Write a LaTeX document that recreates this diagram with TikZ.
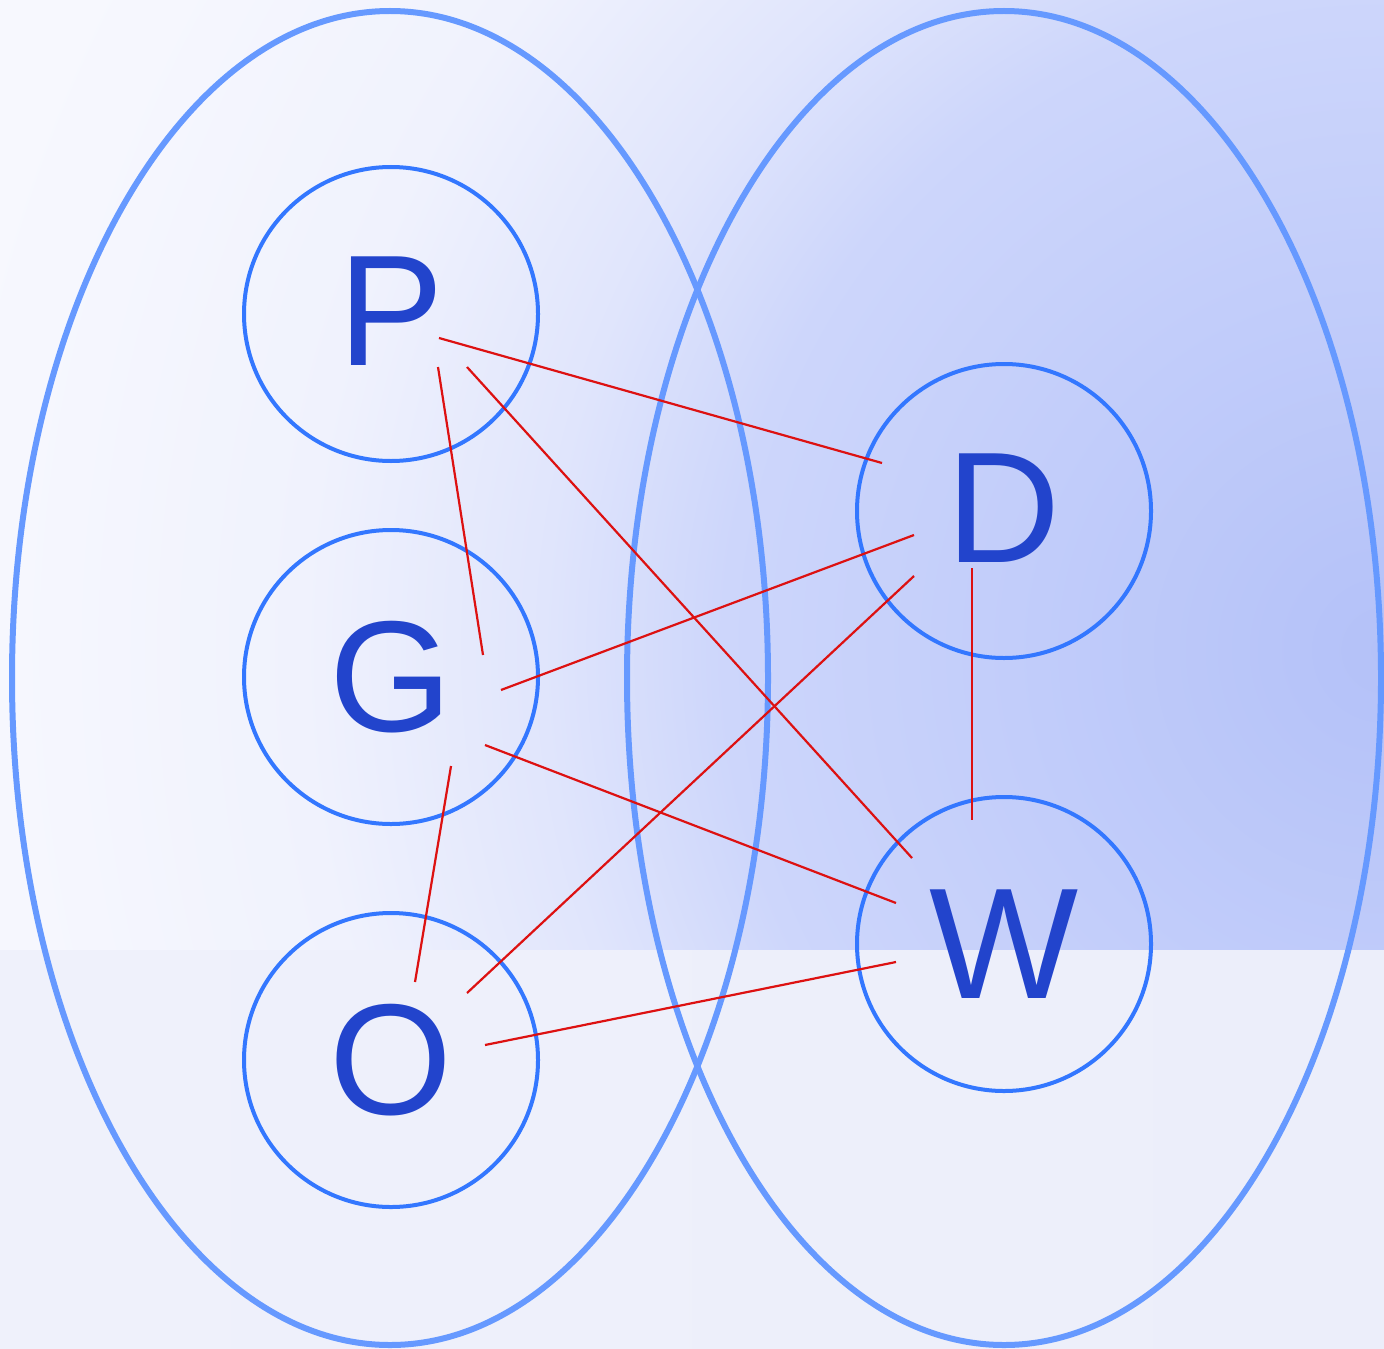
\documentclass[tikz,border=0pt]{standalone}
\usepackage{fontspec}
\setmainfont{Liberation Sans}
\usetikzlibrary{calc}
\definecolor{botL}{RGB}{239,241,251}
\definecolor{botR}{RGB}{236,238,250}
\definecolor{bgout}{rgb}{0.969,0.973,0.996}
\definecolor{ellc}{RGB}{102,153,255}
\definecolor{circc}{RGB}{51,119,255}
\definecolor{letc}{RGB}{34,68,204}
\definecolor{redc}{RGB}{221,17,17}
\pgfdeclareradialshading{bgrad}{\pgfpoint{0bp}{0bp}}{%
  rgb(0bp)=(0.706,0.757,0.973);
  rgb(1.5bp)=(0.718,0.769,0.976);
  rgb(11bp)=(0.804,0.839,0.984);
  rgb(14bp)=(0.878,0.898,0.988);
  rgb(18bp)=(0.941,0.949,0.992);
  rgb(23bp)=(0.965,0.969,0.996);
  rgb(25bp)=(0.969,0.973,0.996);
  rgb(50bp)=(0.969,0.973,0.996)}
\tikzset{
  vertex/.style={circle,draw=circc,line width=2pt,minimum size=147pt,inner sep=0pt,
    text=letc,font=\fontsize{79pt}{79pt}\selectfont},
  setell/.style={draw=ellc,line width=3pt},
  edge/.style={draw=redc,line width=1.1pt}
}
\begin{document}
\begin{tikzpicture}[x=0.5pt,y=-0.5pt]
\useasboundingbox (0,0) rectangle (1384,1348);
% background
\fill[bgout] (0,0) rectangle (1384,950);
\begin{scope}
\clip (0,0) rectangle (1384,950);
\shade[shading=bgrad] (1384,650) circle [radius=1500];
\end{scope}
\shade[left color=botL,right color=botR] (0,950) rectangle (1384,1348);
% set ellipses
\draw[setell] (390,678) ellipse [x radius=378,y radius=667];
\draw[setell] (1004,678) ellipse [x radius=377,y radius=667];
% vertices
\node[vertex] (P) at (391,314) {\raisebox{3pt}{P}};
\node[vertex] (G) at (391,677) {G};
\node[vertex] (O) at (391,1060) {O};
\node[vertex] (D) at (1004,511) {\raisebox{3pt}{D}};
\node[vertex] (W) at (1004,944) {W};
% edges
\draw[edge] ($(P)+(48,24)$) -- ($(D)+(-122,-48)$);
\draw[edge] ($(P)+(47,53)$) -- ($(G)+(92,-22)$);
\draw[edge] ($(P)+(76,53)$) -- ($(W)+(-92,-86)$);
\draw[edge] ($(D)+(-90,24)$) -- ($(G)+(110,13)$);
\draw[edge] ($(D)+(-90,65)$) -- ($(O)+(76,-67)$);
\draw[edge] ($(D)+(-32,57)$) -- ($(W)+(-32,-124)$);
\draw[edge] ($(G)+(94,68)$) -- ($(W)+(-108,-41)$);
\draw[edge] ($(G)+(60,89)$) -- ($(O)+(24,-78)$);
\draw[edge] ($(O)+(94,-15)$) -- ($(W)+(-108,18)$);
\end{tikzpicture}
\end{document}
